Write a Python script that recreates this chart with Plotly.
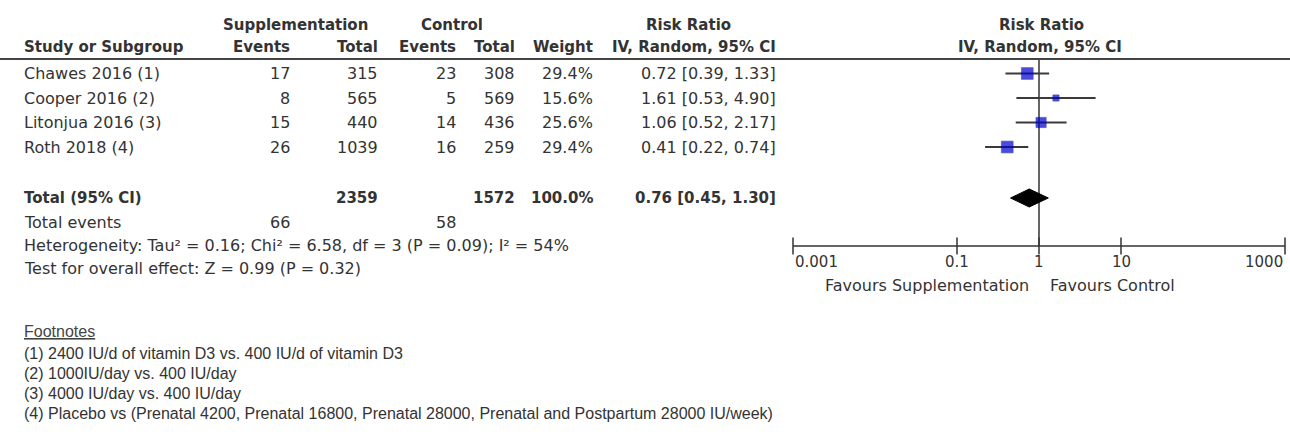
import math
import plotly.graph_objects as go

# ---------------- data ----------------
studies = ["Chawes 2016 (1)", "Cooper 2016 (2)", "Litonjua 2016 (3)", "Roth 2018 (4)"]
supp_events = [17, 8, 15, 26]
supp_total = [315, 565, 440, 1039]
ctrl_events = [23, 5, 14, 16]
ctrl_total = [308, 569, 436, 259]
weight_pct = [29.4, 15.6, 25.6, 29.4]
rr = [0.72, 1.61, 1.06, 0.41]
rr_low = [0.39, 0.53, 0.52, 0.22]
rr_high = [1.33, 4.90, 2.17, 0.74]

pooled_label = "Total (95% CI)"
pooled_supp_total = 2359
pooled_ctrl_total = 1572
pooled_weight = 100.0
pooled_rr = 0.76
pooled_low = 0.45
pooled_high = 1.30
total_events_label = "Total events"
total_events_supp = 66
total_events_ctrl = 58
heterogeneity_text = "Heterogeneity: Tau² = 0.16; Chi² = 6.58, df = 3 (P = 0.09); I² = 54%"
overall_text = "Test for overall effect: Z = 0.99 (P = 0.32)"

axis_ticks = [0.001, 0.1, 1, 10, 1000]
axis_tick_labels = ["0.001", "0.1", "1", "10", "1000"]
favours_left = "Favours Supplementation"
favours_right = "Favours Control"

footnote_title = "Footnotes"
footnotes = [
    "(1) 2400 IU/d of vitamin D3 vs. 400 IU/d of vitamin D3",
    "(2) 1000IU/day vs. 400 IU/day",
    "(3) 4000 IU/day vs. 400 IU/day",
    "(4) Placebo vs (Prenatal 4200, Prenatal 16800, Prenatal 28000, Prenatal and Postpartum 28000 IU/week)",
]

# ---------------- layout constants (pixels) ----------------
W, H = 1290, 437
AX_LEFT, AX_RIGHT = 793, 1285
ROW_Y = [73.5, 98, 122.5, 147]
TOTAL_Y = 198
EVENTS_Y = 222
HET_Y = 245
TEST_Y = 268
AXIS_Y = 246
TICKLABEL_Y = 262
FAVOURS_Y = 285
RULE_Y = 59
HEAD1_Y = 25
HEAD2_Y = 47
FOOT_TITLE_Y = 331
FOOT_Y0 = 353
FOOT_DY = 20

COL_NAME = 22
COL_SE = 292
COL_ST = 380
COL_CE = 458
COL_CT = 517
COL_W = 595
COL_RR = 778

BODY = "DejaVu Sans"
FOOT_FONT = "Liberation Sans, Arial"
TXT = "#333333"
BODY_SIZE = 16
HEAD_SIZE = 15

annotations = []


def ann(text, x, y, anchor, bold=False, size=BODY_SIZE, family=BODY, color=TXT):
    annotations.append(dict(
        text=f"<b>{text}</b>" if bold else text,
        x=x / W, y=y, xref="paper", yref="y",
        xanchor=anchor, yanchor="middle", showarrow=False,
        font=dict(family=family, size=size, color=color),
    ))


# headers
ann("Supplementation", 295, HEAD1_Y, "center", bold=True, size=HEAD_SIZE)
ann("Control", 452, HEAD1_Y, "center", bold=True, size=HEAD_SIZE)
ann("Risk Ratio", 688, HEAD1_Y, "center", bold=True, size=HEAD_SIZE)
ann("Risk Ratio", 1041, HEAD1_Y, "center", bold=True, size=HEAD_SIZE)
ann("Study or Subgroup", COL_NAME, HEAD2_Y, "left", bold=True, size=HEAD_SIZE)
ann("Events", COL_SE, HEAD2_Y, "right", bold=True, size=HEAD_SIZE)
ann("Total", COL_ST, HEAD2_Y, "right", bold=True, size=HEAD_SIZE)
ann("Events", COL_CE, HEAD2_Y, "right", bold=True, size=HEAD_SIZE)
ann("Total", COL_CT, HEAD2_Y, "right", bold=True, size=HEAD_SIZE)
ann("Weight", COL_W, HEAD2_Y, "right", bold=True, size=HEAD_SIZE)
ann("IV, Random, 95% CI", COL_RR, HEAD2_Y, "right", bold=True, size=HEAD_SIZE)
ann("IV, Random, 95% CI", 1040, HEAD2_Y, "center", bold=True, size=HEAD_SIZE)

# study rows
for i, name in enumerate(studies):
    y = ROW_Y[i]
    ann(name, COL_NAME, y, "left")
    ann(str(supp_events[i]), COL_SE, y, "right")
    ann(str(supp_total[i]), COL_ST, y, "right")
    ann(str(ctrl_events[i]), COL_CE, y, "right")
    ann(str(ctrl_total[i]), COL_CT, y, "right")
    ann(f"{weight_pct[i]:.1f}%", COL_W, y, "right")
    ann(f"{rr[i]:.2f} [{rr_low[i]:.2f}, {rr_high[i]:.2f}]", COL_RR, y, "right")

# pooled row
ann(pooled_label, COL_NAME, TOTAL_Y, "left", bold=True, size=HEAD_SIZE)
ann(str(pooled_supp_total), COL_ST, TOTAL_Y, "right", bold=True, size=HEAD_SIZE)
ann(str(pooled_ctrl_total), COL_CT, TOTAL_Y, "right", bold=True, size=HEAD_SIZE)
ann(f"{pooled_weight:.1f}%", COL_W, TOTAL_Y, "right", bold=True, size=HEAD_SIZE)
ann(f"{pooled_rr:.2f} [{pooled_low:.2f}, {pooled_high:.2f}]", COL_RR, TOTAL_Y, "right", bold=True, size=HEAD_SIZE)

ann(total_events_label, COL_NAME, EVENTS_Y, "left")
ann(str(total_events_supp), COL_SE, EVENTS_Y, "right")
ann(str(total_events_ctrl), COL_CE, EVENTS_Y, "right")
ann(heterogeneity_text, COL_NAME, HET_Y, "left")
ann(overall_text, COL_NAME, TEST_Y, "left")

ann(favours_left, 1031, FAVOURS_Y, "right")
ann(favours_right, 1048, FAVOURS_Y, "left")

ann(f"<u>{footnote_title}</u>", COL_NAME, FOOT_TITLE_Y, "left", family=FOOT_FONT, size=16, color="#444444")
for k, fn in enumerate(footnotes):
    ann(fn, COL_NAME, FOOT_Y0 + k * FOOT_DY, "left", family=FOOT_FONT, size=16)

# axis tick labels (placed through the log x axis; annotation x is in log10 units)
for k, (v, lab) in enumerate(zip(axis_ticks, axis_tick_labels)):
    anchor = "left" if k == 0 else ("right" if k == len(axis_ticks) - 1 else "center")
    annotations.append(dict(
        text=lab, x=math.log10(v), y=TICKLABEL_Y, xref="x", yref="y",
        xanchor=anchor, yanchor="middle", showarrow=False,
        font=dict(family=BODY, size=15, color=TXT),
    ))

# ---------------- traces ----------------
fig = go.Figure()

LINE_C = "#333333"

# axis line
fig.add_trace(go.Scatter(
    x=[axis_ticks[0], axis_ticks[-1]], y=[AXIS_Y, AXIS_Y], mode="lines",
    line=dict(color=LINE_C, width=1.5), hoverinfo="skip", showlegend=False,
    cliponaxis=False))
# tick marks
fig.add_trace(go.Scatter(
    x=axis_ticks, y=[AXIS_Y] * len(axis_ticks), mode="markers",
    marker=dict(symbol="line-ns", size=12, line=dict(color=LINE_C, width=1.5)),
    hoverinfo="skip", showlegend=False, cliponaxis=False))
# null line
fig.add_trace(go.Scatter(
    x=[1, 1], y=[RULE_Y, AXIS_Y], mode="lines",
    line=dict(color=LINE_C, width=1.5), hoverinfo="skip", showlegend=False))

# CI lines
ci_x, ci_y = [], []
for i in range(len(studies)):
    ci_x += [rr_low[i], rr_high[i], None]
    ci_y += [ROW_Y[i], ROW_Y[i], None]
fig.add_trace(go.Scatter(
    x=ci_x, y=ci_y, mode="lines", line=dict(color="#3a3a3a", width=2),
    hoverinfo="skip", showlegend=False))

# study squares (size by weight)
fig.add_trace(go.Scatter(
    x=rr, y=ROW_Y, mode="markers",
    marker=dict(symbol="square", size=[12 * w / 30 for w in weight_pct],
                color="#0000cc", line=dict(color="#00009a", width=0.6)),
    hoverinfo="skip", showlegend=False))

# pooled diamond
DH = 9
fig.add_trace(go.Scatter(
    x=[pooled_low, pooled_rr, pooled_high, pooled_rr, pooled_low],
    y=[TOTAL_Y, TOTAL_Y - DH, TOTAL_Y, TOTAL_Y + DH, TOTAL_Y],
    mode="lines", fill="toself", fillcolor="#000000",
    line=dict(color="#000000", width=1), hoverinfo="skip", showlegend=False))

fig.update_layout(
    width=W, height=H,
    margin=dict(l=0, r=0, t=0, b=0),
    paper_bgcolor="white", plot_bgcolor="white",
    xaxis=dict(type="log", range=[-3, 3], domain=[AX_LEFT / W, AX_RIGHT / W],
               visible=False, fixedrange=True),
    yaxis=dict(range=[H, 0], domain=[0, 1], visible=False, fixedrange=True),
    annotations=annotations,
    shapes=[dict(type="line", xref="paper", yref="y", x0=0, x1=1,
                 y0=RULE_Y, y1=RULE_Y, line=dict(color="#444444", width=2))],
    showlegend=False,
)

fig.write_html(
    "out.html",
    config={"displayModeBar": False},
    post_script="document.body.style.margin='0px';document.body.style.overflow='hidden';",
)
